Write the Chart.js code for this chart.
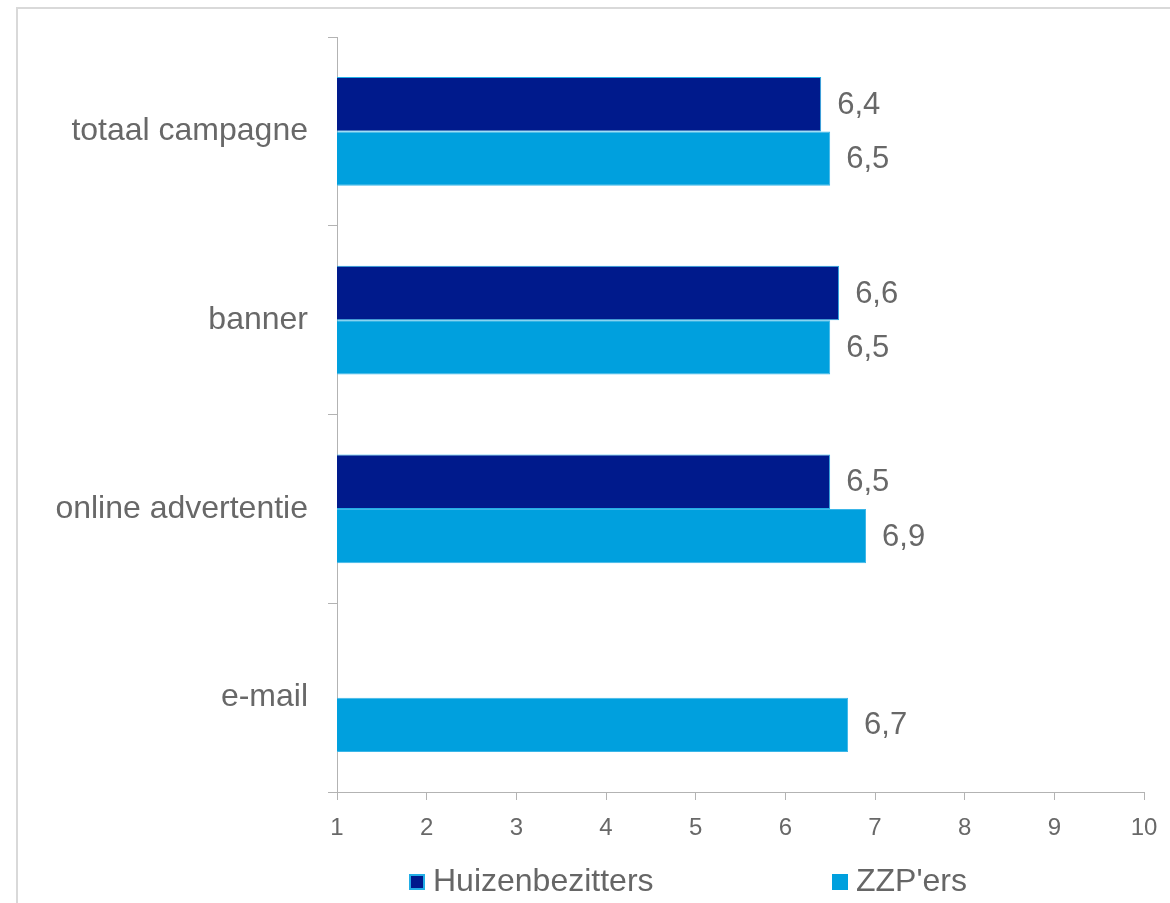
<!DOCTYPE html>
<html>
<head>
<meta charset="utf-8">
<script src="https://cdn.jsdelivr.net/npm/chart.js@4/dist/chart.umd.min.js"></script>
<style>
    body { margin: 0; background: #fff; font-family: "Liberation Sans", Arial, sans-serif; }
    #wrap { position: relative; width: 1170px; height: 903px; overflow: hidden; }
    #frame { position: absolute; left: 16px; top: 7px; width: 1200px; height: 1000px; border: 2px solid #d9d9d9; }
    #chart { position: absolute; left: 0; top: 0; }
    .legend-item { position: absolute; top: 862px; font-size: 32px; color: #666; line-height: 36px; white-space: nowrap; }
    .legend-box { display: inline-block; width: 16px; height: 16px; margin-right: 8px; vertical-align: 1px; box-sizing: border-box; }
</style>
</head>
<body>
<div id="wrap">
    <div id="frame"></div>
    <canvas id="chart" width="1170" height="903"></canvas>
    <div class="legend-item" style="left:409px"><span class="legend-box" style="background:#001a8c;border:2px solid #22aee6"></span>Huizenbezitters</div>
    <div class="legend-item" style="left:832px"><span class="legend-box" style="background:#00a0de"></span>ZZP'ers</div>
</div>
<script>
var categories = ["totaal campagne", "banner", "online advertentie", "e-mail"];
var huizenbezitters = [6.4, 6.6, 6.5, null];
var zzpers = [6.5, 6.5, 6.9, 6.7];
var xTicks = [1, 2, 3, 4, 5, 6, 7, 8, 9, 10];

var textColor = "#686868";
var axisColor = "#b3b3b3";

// value labels to the right of every bar, Dutch decimal comma
var valueLabels = {
    id: "valueLabels",
    afterDatasetsDraw: function (chart) {
        var ctx = chart.ctx;
        ctx.save();
        ctx.font = "31px 'Liberation Sans', Arial, sans-serif";
        ctx.fillStyle = textColor;
        ctx.textAlign = "left";
        ctx.textBaseline = "middle";
        chart.data.datasets.forEach(function (ds, i) {
            var meta = chart.getDatasetMeta(i);
            meta.data.forEach(function (bar, j) {
                var v = ds.data[j];
                if (v === null || v === undefined) return;
                ctx.fillText(v.toFixed(1).replace(".", ","), bar.x + 16, bar.y + 1);
            });
        });
        ctx.restore();
    },
};

var ctx = document.getElementById("chart").getContext("2d");
var chart = new Chart(ctx, {
    type: "bar",
    data: {
        labels: categories,
        datasets: [
            {
                label: "Huizenbezitters",
                data: huizenbezitters,
                backgroundColor: "#001a8c",
                borderColor: "#22aee6",
                borderWidth: 1,
                categoryPercentage: 0.575,
                barPercentage: 1,
            },
            {
                label: "ZZP'ers",
                data: zzpers,
                backgroundColor: "#00a0de",
                borderColor: "#3bb6e8",
                borderWidth: 1,
                categoryPercentage: 0.575,
                barPercentage: 1,
            },
        ],
    },
    options: {
        indexAxis: "y",
        responsive: false,
        animation: false,
        layout: {
            padding: { left: 0, right: 26, top: 37, bottom: 51 },
        },
        plugins: {
            legend: { display: false },
            tooltip: { enabled: false },
        },
        scales: {
            x: {
                type: "linear",
                min: 1,
                max: 10,
                afterFit: function (scale) {
                    scale.height = 60;
                    scale.paddingLeft = 0;
                    scale.paddingRight = 0;
                },
                afterBuildTicks: function (scale) {
                    scale.ticks = xTicks.map(function (v) {
                        return { value: v };
                    });
                },
                grid: {
                    drawOnChartArea: false,
                    drawTicks: true,
                    tickLength: 8,
                    color: axisColor,
                },
                border: { color: axisColor, width: 1 },
                ticks: {
                    color: textColor,
                    padding: 14,
                    font: { family: "'Liberation Sans', Arial, sans-serif", size: 24 },
                },
            },
            y: {
                afterFit: function (scale) {
                    scale.width = 337;
                    scale.paddingTop = 0;
                    scale.paddingBottom = 0;
                },
                grid: {
                    drawOnChartArea: false,
                    drawTicks: true,
                    tickLength: 9,
                    color: axisColor,
                },
                border: { color: axisColor, width: 1 },
                ticks: {
                    color: textColor,
                    padding: 20,
                    font: { family: "'Liberation Sans', Arial, sans-serif", size: 32 },
                },
            },
        },
    },
    plugins: [valueLabels],
});
</script>
</body>
</html>
